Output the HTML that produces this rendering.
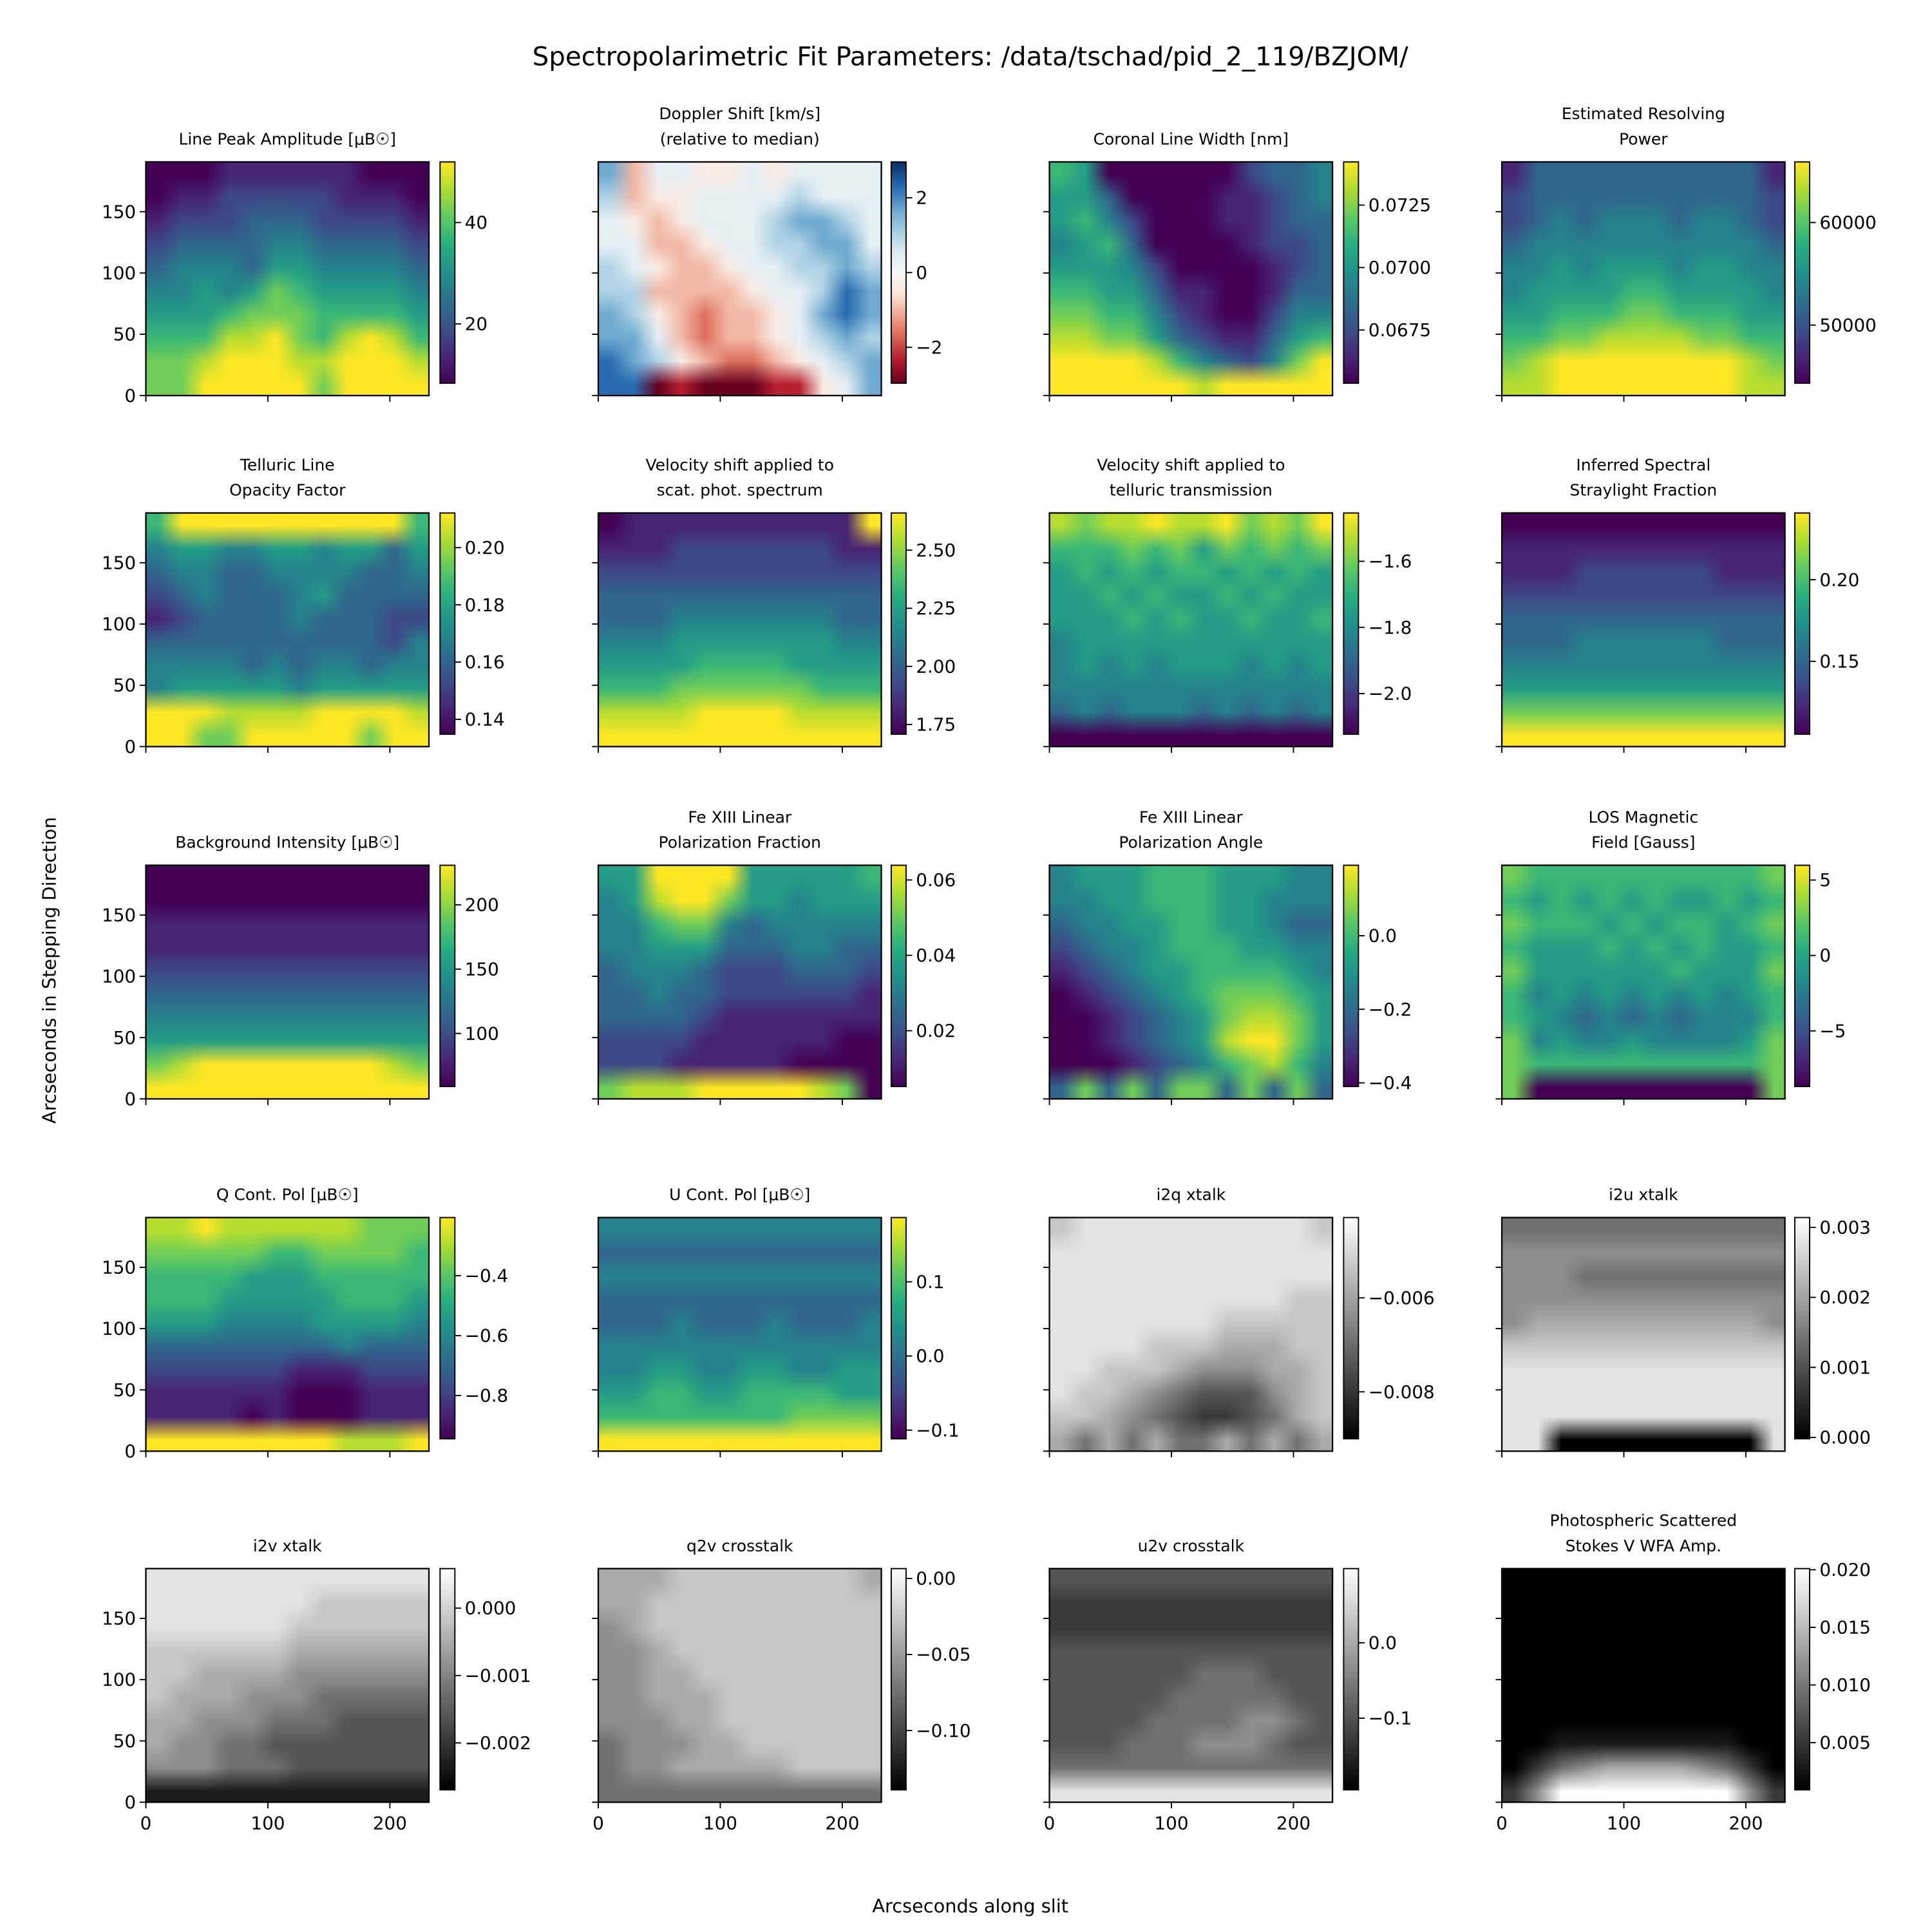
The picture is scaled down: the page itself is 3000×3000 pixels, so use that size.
<!DOCTYPE html>
<html><head><meta charset="utf-8">
<style>
html,body{margin:0;padding:0;background:#fff;}
#page{position:absolute;left:0;top:0;width:1563px;height:1563px;transform:scale(1.919386);transform-origin:0 0;overflow:hidden;font-family:"DejaVu Sans","Liberation Sans",sans-serif;}
canvas{position:absolute;image-rendering:auto;}
#axes{position:absolute;left:0;top:0;}
</style></head>
<body>
<div id="page">
<svg id="axes" width="1563" height="1563" viewBox="0 0 1563 1563" xmlns="http://www.w3.org/2000/svg">
<defs id="defs"></defs>
<text x="785" y="53" font-size="21" text-anchor="middle" font-family="DejaVu Sans, Liberation Sans, sans-serif">Spectropolarimetric Fit Parameters: /data/tschad/pid_2_119/BZJOM/</text>
<text x="0" y="0" font-size="15" text-anchor="middle" transform="translate(45,785) rotate(-90)" font-family="DejaVu Sans, Liberation Sans, sans-serif">Arcseconds in Stepping Direction</text>
<text x="785" y="1547" font-size="15" text-anchor="middle" font-family="DejaVu Sans, Liberation Sans, sans-serif">Arcseconds along slit</text>
</svg>
</div>
<script>
// ---- data ----
const titles = [
["Line Peak Amplitude [μB☉]"],["Doppler Shift [km/s]","(relative to median)"],["Coronal Line Width [nm]"],["Estimated Resolving","Power"],
["Telluric Line","Opacity Factor"],["Velocity shift applied to","scat. phot. spectrum"],["Velocity shift applied to","telluric transmission"],["Inferred Spectral","Straylight Fraction"],
["Background Intensity [μB☉]"],["Fe XIII Linear","Polarization Fraction"],["Fe XIII Linear","Polarization Angle"],["LOS Magnetic","Field [Gauss]"],
["Q Cont. Pol [μB☉]"],["U Cont. Pol [μB☉]"],["i2q xtalk"],["i2u xtalk"],
["i2v xtalk"],["q2v crosstalk"],["u2v crosstalk"],["Photospheric Scattered","Stokes V WFA Amp."]
];
const cmaps = ["v","r","v","v","v","v","v","v","v","v","v","v","v","v","g","g","g","g","g","g"];
const cbarMin = [8.3,-2.96,0.06537,44337,0.1348,1.708,-2.123,0.1053,58.7,0.0052,-0.410,-8.69,-0.9443,-0.1117,-0.0090,-0.00002,-0.002697,-0.139,-0.195,0.0009];
const cbarMax = [51.95,2.96,0.07423,65904,0.2121,2.66,-1.454,0.2409,230.8,0.0639,0.1916,5.98,-0.2062,0.1867,-0.00429,0.00314,0.000587,0.0065,0.0984,0.0201];
const cbarTicks = [
[20,40],[-2,0,2],[0.0675,0.07,0.0725],[50000,60000],
[0.14,0.16,0.18,0.20],[1.75,2.0,2.25,2.5],[-2.0,-1.8,-1.6],[0.15,0.20],
[100,150,200],[0.02,0.04,0.06],[-0.4,-0.2,0.0],[-5,0,5],
[-0.8,-0.6,-0.4],[-0.1,0.0,0.1],[-0.008,-0.006],[0,0.001,0.002,0.003],
[-0.002,-0.001,0.0],[-0.10,-0.05,0.00],[-0.1,0.0],[0.005,0.010,0.015,0.020]
];
const cbarLabels = [
["20","40"],["−2","0","2"],["0.0675","0.0700","0.0725"],["50000","60000"],
["0.14","0.16","0.18","0.20"],["1.75","2.00","2.25","2.50"],["−2.0","−1.8","−1.6"],["0.15","0.20"],
["100","150","200"],["0.02","0.04","0.06"],["−0.4","−0.2","0.0"],["−5","0","5"],
["−0.8","−0.6","−0.4"],["−0.1","0.0","0.1"],["−0.008","−0.006"],["0.000","0.001","0.002","0.003"],
["−0.002","−0.001","0.000"],["−0.10","−0.05","0.00"],["−0.1","0.0"],["0.005","0.010","0.015","0.020"]
];
const xTicks = [0,100,200];
const yTicks = [0,50,100,150];
const xMax = 232, yMax = 190.6;
// heatmap grids: rows top->bottom, digits 0..9 = colormap fraction
const grids = [
["000111111000","011222221110","122233322221","233334433332","344435544443","445457655554","555677766665","666889768986","778999889998","779999979999"],
["735544545555","634455556555","543455567765","553345566775","654334556676","663333455687","764323345787","775323345676","876432234567","880100011457"],
["650000002334","553000011234","564200011233","456300001223","555420000123","665531100133","776642100244","887753211356","999986432479","999999899999"],
["133333333331","233333333332","234344434432","344444444443","445455545544","455556655554","556667766655","667788887766","789999999987","889999999988"],
["699999999996","455445545535","344334444334","234333453333","123333433322","333333333324","444434344344","455555455555","999888899998","997799999799"],
["011111111119","111222222211","222222222222","333333333333","333444444433","444555555544","555566665555","666777777666","888899998888","999999999999"],
["878898897879","666767576767","565656656565","556565565655","555656556556","455555555555","454545554545","444444444444","343444343434","000000000000"],
["000000000000","111111111111","111222222111","222222222222","333333333333","333444444333","444444444444","555555555555","777777777777","999999999999"],
["000000000000","000000000000","111111111111","111111111111","222222222222","333333333333","444444444444","555555555555","789999999987","999999999999"],
["559999555556","458997554555","446774344444","445553334433","344432223332","334332222221","333321111111","222211111100","222111110000","788899999870"],
["455566655544","445566655444","344556655433","234456665544","123455666654","012345677765","001234578875","001234589975","000123467864","373737737373"],
["766666666667","656565655656","766656566567","655565656556","755555565557","645454545456","654343434446","745445444457","766666666667","700000000007"],
["889888888777","777776677776","666655566666","666555556665","555444455554","333333334333","222222111222","111111000111","111101000111","999999998889"],
["444444444444","333333333333","444444444444","333333333333","333433343334","444444444444","445544554455","556655666655","666666667777","999999999999"],
["788888888887","888888888888","888888888888","888888888877","888888877777","888877766677","887776555667","877654333567","776543223467","646464464646"],
["444444444444","555555555555","555444444444","555555555555","566666666665","777777777777","888888888888","888888888888","888888888888","880000000008"],
["888888888888","888888877777","888888777777","777777666666","776666555555","766655544444","665554443333","655443333333","555444333333","111111111111"],
["666777777776","667777777777","567777777777","556777777777","556677777777","556667777777","555667777777","455566777777","455666667777","444444444444"],
["333333333333","222222222222","222222222222","333333333333","333333444333","333334444433","333344445543","333444555433","444444444444","888888888888"],
["000000000000","000000000000","000000000000","000000000000","000000000000","000000000000","000000000000","001111111100","024566665420","259999999952"]
];
// ---- layout ----
const colX = [118,484,849,1215], cbX = [356,721,1087,1452];
const rowY = [131,415,700,985,1269];
const PW = 229, PH = 189, CW = 12, CH = 179;
const stops = {
 v:[[0,"#440154"],[0.125,"#482878"],[0.25,"#3b528b"],[0.375,"#2c728e"],[0.5,"#21918c"],[0.625,"#28ae80"],[0.75,"#5ec962"],[0.875,"#addc30"],[1,"#fde725"]],
 r:[[0,"#67001f"],[0.1,"#b2182b"],[0.25,"#e58267"],[0.4,"#fbe3d6"],[0.5,"#f7f7f7"],[0.6,"#d8e9f1"],[0.75,"#7fb8d7"],[0.9,"#2166ac"],[1,"#053061"]],
 g:[[0,"#000000"],[1,"#ffffff"]]
};
function hex(h){return [parseInt(h.slice(1,3),16),parseInt(h.slice(3,5),16),parseInt(h.slice(5,7),16)];}
function cmap(name,t){
  const s=stops[name];
  for(let i=1;i<s.length;i++){ if(t<=s[i][0]){const a=hex(s[i-1][1]),b=hex(s[i][1]);const f=(t-s[i-1][0])/(s[i][0]-s[i-1][0]);return [0,1,2].map(k=>Math.round(a[k]+(b[k]-a[k])*f));}}
  return hex(s[s.length-1][1]);
}
const NS="http://www.w3.org/2000/svg";
const svg=document.getElementById('axes'), defs=document.getElementById('defs'), page=document.getElementById('page');
function mk(tag,attrs,parent){const e=document.createElementNS(NS,tag);for(const k in attrs)e.setAttribute(k,attrs[k]);(parent||svg).appendChild(e);return e;}
const FONT="DejaVu Sans, Liberation Sans, sans-serif";
const xScale=(x0,v)=>x0+v*PW/xMax;
const yScale=(y0,v)=>y0+PH-v*PH/yMax;
for(const name of ["v","r","g"]){
  const lg=mk('linearGradient',{id:'cg'+name,x1:0,y1:1,x2:0,y2:0},defs);
  for(const s of stops[name]) mk('stop',{offset:s[0],'stop-color':s[1]},lg);
}
for(let p=0;p<20;p++){
  const r=Math.floor(p/4), c=p%4, x0=colX[c], y0=rowY[r];
  const slug=titles[p].join(' ').toLowerCase().replace(/[^a-z0-9]+/g,'-').replace(/^-|-$/g,'');
  const g=grids[p], nr=g.length, nc=g[0].length;
  const cv=document.createElement('canvas');
  cv.width=nc; cv.height=nr;
  cv.style.left=x0+'px'; cv.style.top=y0+'px'; cv.style.width=PW+'px'; cv.style.height=PH+'px';
  
  
  const ctx=cv.getContext('2d'); const img=ctx.createImageData(nc,nr);
  for(let i=0;i<nr;i++)for(let j=0;j<nc;j++){const col=cmap(cmaps[p],+g[i][j]/9);const k=(i*nc+j)*4;img.data[k]=col[0];img.data[k+1]=col[1];img.data[k+2]=col[2];img.data[k+3]=255;}
  ctx.putImageData(img,0,0);
  page.insertBefore(cv,svg);
  const fr=mk('rect',{x:x0,y:y0,width:PW,height:PH,fill:'none',stroke:'#000','stroke-width':1.2});
  
  
  const tl=titles[p];
  tl.forEach((line,i)=>{
    const t=mk('text',{x:x0+PW/2,y:y0-14-(tl.length-1-i)*20.5,'font-size':13,'text-anchor':'middle','font-family':FONT});
    t.textContent=line;
    
    
  });
  for(const v of yTicks){
    const y=yScale(y0,v);
    const tk=mk('line',{x1:x0-5,x2:x0,y1:y,y2:y,stroke:'#000','stroke-width':1});
    
    
    if(c===0){
      const t=mk('text',{x:x0-8,y:y+5,'font-size':14.5,'text-anchor':'end','font-family':FONT});
      t.textContent=String(v);
      
      
    }
  }
  for(const v of xTicks){
    const x=xScale(x0,v);
    const tk=mk('line',{x1:x,x2:x,y1:y0+PH,y2:y0+PH+5,stroke:'#000','stroke-width':1});
    
    
    if(r===4){
      const t=mk('text',{x:x,y:y0+PH+22,'font-size':14.5,'text-anchor':'middle','font-family':FONT});
      t.textContent=String(v);
      
      
    }
  }
  const cx=cbX[c];
  const cb=mk('rect',{x:cx,y:y0,width:CW,height:CH,fill:'url(#cg'+cmaps[p]+')',stroke:'#000','stroke-width':1});
  
  
  cbarTicks[p].forEach((v,i)=>{
    const y=y0+CH-(v-cbarMin[p])/(cbarMax[p]-cbarMin[p])*CH;
    const tk=mk('line',{x1:cx+CW,x2:cx+CW+5,y1:y,y2:y,stroke:'#000','stroke-width':1});
    
    
    const t=mk('text',{x:cx+CW+8,y:y+5,'font-size':14.5,'font-family':FONT});
    t.textContent=cbarLabels[p][i];
    
    
  });
}
</script>
</body></html>
